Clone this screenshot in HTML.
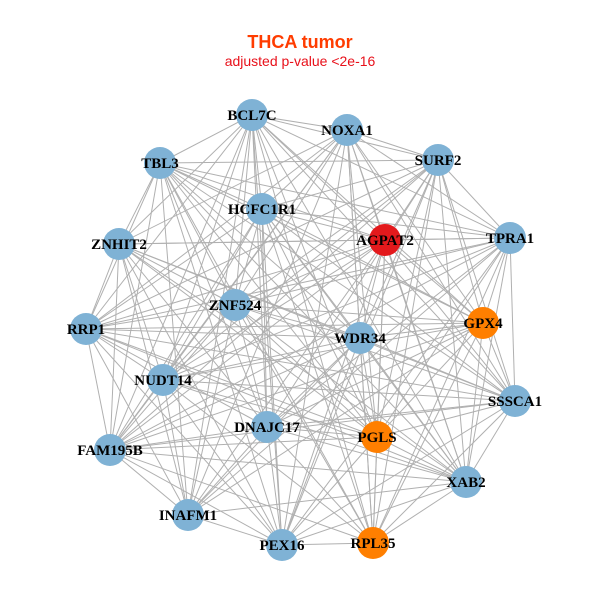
<!DOCTYPE html>
<html><head><meta charset="utf-8"><style>
html,body{margin:0;padding:0;background:#fff;width:600px;height:600px;overflow:hidden}
text{font-family:"Liberation Serif",serif;font-weight:bold;font-size:15px;fill:#000}
</style></head><body>
<svg id="s" width="600" height="600" xmlns="http://www.w3.org/2000/svg">
<text x="300" y="48" text-anchor="middle" style="font-family:'Liberation Sans',sans-serif;font-size:18px;fill:#ff3c00">THCA tumor</text>
<text x="300" y="66" text-anchor="middle" style="font-family:'Liberation Sans',sans-serif;font-weight:normal;font-size:14px;fill:#e8101a">adjusted p-value &lt;2e-16</text>
<g id="e" stroke="#b0b0b0" stroke-width="1"></g>
<g id="n"></g>
</svg>
<script>
var N=[["BCL7C",252,115,0],["NOXA1",347,130,0],["SURF2",438,160,0],["TBL3",160,163,0],["HCFC1R1",262,209,0],["AGPAT2",385,240,1],["TPRA1",510,238,0],["ZNHIT2",119,244,0],["ZNF524",235,305,0],["GPX4",483,323,2],["RRP1",86,329,0],["WDR34",360,338,0],["NUDT14",163,380,0],["SSSCA1",515,401,0],["DNAJC17",267,427,0],["PGLS",377,437,2],["FAM195B",110,450,0],["XAB2",466,482,0],["INAFM1",188,515,0],["PEX16",282,545,0],["RPL35",373,543,2]];
var C=["#7fb2d5","#e3191c","#ff7f00"];
var e=document.getElementById("e"),g=document.getElementById("n"),h="";
var k=0;
for(var i=0;i<N.length;i++)for(var j=i+1;j<N.length;j++){k++;if((k*7)%11==0)continue;
h+='<line x1="'+N[i][1]+'" y1="'+N[i][2]+'" x2="'+N[j][1]+'" y2="'+N[j][2]+'"/>';}
e.innerHTML=h;h="";
for(var i=0;i<N.length;i++){h+='<circle cx="'+N[i][1]+'" cy="'+N[i][2]+'" r="16" fill="'+C[N[i][3]]+'"/>';}
for(var i=0;i<N.length;i++){h+='<text x="'+N[i][1]+'" y="'+(N[i][2]+5)+'" text-anchor="middle">'+N[i][0]+'</text>';}
g.innerHTML=h;
</script>
</body></html>
